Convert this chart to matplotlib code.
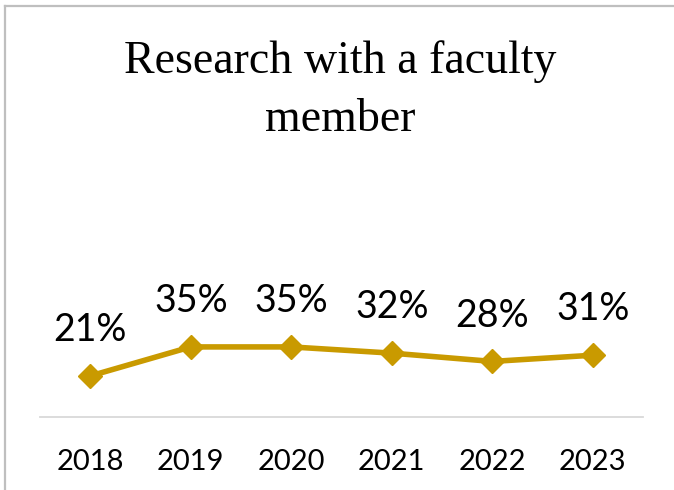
import matplotlib
matplotlib.use("Agg")
import matplotlib.pyplot as plt
from matplotlib.lines import Line2D

years = ["2018", "2019", "2020", "2021", "2022", "2023"]
values = [0.21, 0.35, 0.35, 0.32, 0.28, 0.31]
labels = ["21%", "35%", "35%", "32%", "28%", "31%"]
title_lines = ["Research with a faculty", "member"]

W, H = 674, 490
fig = plt.figure(figsize=(W / 100, H / 100), dpi=100)
fig.patch.set_facecolor("white")

ax = fig.add_axes([40 / W, 1 - 417 / H, 603 / W, 209 / H])
x = list(range(len(years)))
gold = "#C99A00"
ax.plot(x, values, color=gold, lw=4, marker="D", ms=12.5, mec=gold, mfc=gold,
        solid_capstyle="round", clip_on=False)
for xi, v, lab in zip(x, values, labels):
    ax.annotate(lab, (xi, v), xytext=(0, 33), textcoords="offset points",
                ha="center", va="center", fontsize=27, family="Lato", color="black")

ax.set_xlim(-0.5, len(years) - 0.5)
ax.set_ylim(0.012, 1.02)
ax.set_xticks(x)
ax.set_xticklabels(years, fontsize=21, family="Lato")
ax.tick_params(axis="x", length=0, pad=23)
ax.set_yticks([])
for s in ["top", "left", "right"]:
    ax.spines[s].set_visible(False)
ax.spines["bottom"].set_color("#D9D9D9")
ax.spines["bottom"].set_linewidth(1.3)
ax.patch.set_alpha(0)

fig.text(340 / W, 1 - 62 / H, title_lines[0], ha="center", va="center",
         fontsize=33, family="Liberation Serif")
fig.text(340 / W, 1 - 120 / H, title_lines[1], ha="center", va="center",
         fontsize=33, family="Liberation Serif")

# chart border (cropped: top and left visible)
fig.add_artist(Line2D([4.5 / W, 1], [1 - 6.5 / H, 1 - 6.5 / H], color="#BFBFBF", lw=1.6,
                      transform=fig.transFigure))
fig.add_artist(Line2D([4.5 / W, 4.5 / W], [0, 1 - 6.5 / H], color="#BFBFBF", lw=1.6,
                      transform=fig.transFigure))

fig.savefig("out.png", dpi=100)
